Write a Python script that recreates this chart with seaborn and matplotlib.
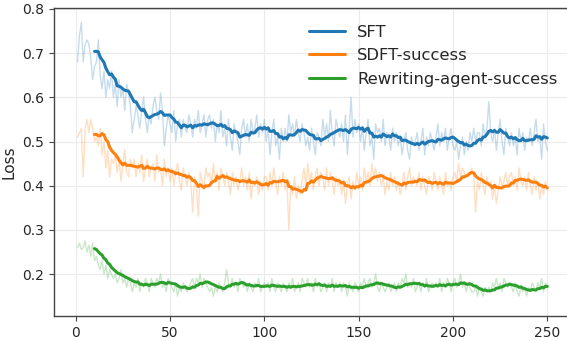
import numpy as np
import pandas as pd
import matplotlib
matplotlib.use("Agg")
import matplotlib.pyplot as plt
import seaborn as sns

steps = list(range(1, 251))

sft = [0.68, 0.74, 0.77, 0.68, 0.72, 0.73, 0.72, 0.69, 0.64, 0.67,
       0.68, 0.73, 0.65, 0.62, 0.66, 0.60, 0.64, 0.62, 0.66, 0.60,
       0.63, 0.58, 0.64, 0.60, 0.62, 0.57, 0.63, 0.61, 0.58, 0.52,
       0.55, 0.58, 0.56, 0.53, 0.57, 0.60, 0.55, 0.52, 0.56, 0.54,
       0.58, 0.60, 0.57, 0.55, 0.61, 0.57, 0.49, 0.53, 0.56, 0.54,
       0.52, 0.57, 0.50, 0.54, 0.55, 0.51, 0.55, 0.53, 0.52, 0.56,
       0.54, 0.51, 0.55, 0.53, 0.57, 0.52, 0.54, 0.56, 0.51, 0.55,
       0.56, 0.53, 0.55, 0.50, 0.54, 0.52, 0.57, 0.51, 0.53, 0.49,
       0.55, 0.51, 0.48, 0.54, 0.52, 0.50, 0.47, 0.53, 0.55, 0.51,
       0.54, 0.50, 0.55, 0.52, 0.53, 0.56, 0.51, 0.54, 0.52, 0.55,
       0.50, 0.53, 0.47, 0.52, 0.55, 0.49, 0.51, 0.46, 0.53, 0.50,
       0.53, 0.50, 0.56, 0.52, 0.54, 0.51, 0.55, 0.52, 0.50, 0.54,
       0.52, 0.49, 0.51, 0.48, 0.53, 0.50, 0.47, 0.52, 0.51, 0.49,
       0.55, 0.51, 0.54, 0.50, 0.57, 0.52, 0.49, 0.55, 0.53, 0.51,
       0.54, 0.50, 0.56, 0.47, 0.53, 0.60, 0.51, 0.55, 0.52, 0.54,
       0.50, 0.53, 0.48, 0.52, 0.55, 0.49, 0.51, 0.46, 0.54, 0.52,
       0.53, 0.50, 0.55, 0.49, 0.52, 0.51, 0.48, 0.53, 0.50, 0.52,
       0.49, 0.51, 0.47, 0.50, 0.52, 0.48, 0.46, 0.51, 0.49, 0.50,
       0.52, 0.48, 0.50, 0.53, 0.47, 0.51, 0.49, 0.52, 0.50, 0.48,
       0.51, 0.54, 0.49, 0.52, 0.50, 0.53, 0.48, 0.51, 0.53, 0.49,
       0.48, 0.50, 0.46, 0.49, 0.51, 0.47, 0.50, 0.48, 0.52, 0.50,
       0.53, 0.50, 0.52, 0.52, 0.49, 0.54, 0.51, 0.53, 0.59, 0.52,
       0.50, 0.53, 0.48, 0.52, 0.55, 0.50, 0.47, 0.53, 0.51, 0.49,
       0.52, 0.49, 0.51, 0.47, 0.53, 0.50, 0.52, 0.48, 0.51, 0.50,
       0.53, 0.49, 0.52, 0.55, 0.50, 0.51, 0.46, 0.54, 0.50, 0.48]

sdft = [0.51, 0.52, 0.53, 0.42, 0.53, 0.55, 0.52, 0.55, 0.53, 0.50,
        0.51, 0.49, 0.53, 0.47, 0.50, 0.44, 0.48, 0.42, 0.46, 0.45,
        0.47, 0.43, 0.46, 0.41, 0.45, 0.48, 0.43, 0.42, 0.46, 0.44,
        0.46, 0.42, 0.45, 0.43, 0.47, 0.41, 0.44, 0.46, 0.42, 0.44,
        0.45, 0.41, 0.47, 0.43, 0.44, 0.40, 0.46, 0.42, 0.44, 0.41,
        0.44, 0.40, 0.43, 0.45, 0.41, 0.39, 0.44, 0.42, 0.40, 0.43,
        0.41, 0.34, 0.42, 0.40, 0.33, 0.43, 0.41, 0.39, 0.44, 0.42,
        0.43, 0.40, 0.45, 0.41, 0.43, 0.39, 0.44, 0.42, 0.40, 0.43,
        0.41, 0.38, 0.43, 0.40, 0.42, 0.39, 0.41, 0.44, 0.40, 0.42,
        0.39, 0.43, 0.37, 0.41, 0.40, 0.42, 0.38, 0.41, 0.39, 0.42,
        0.42, 0.39, 0.43, 0.40, 0.44, 0.41, 0.38, 0.42, 0.40, 0.43,
        0.39, 0.41, 0.30, 0.40, 0.38, 0.42, 0.37, 0.40, 0.38, 0.41,
        0.44, 0.40, 0.45, 0.41, 0.43, 0.39, 0.42, 0.44, 0.40, 0.43,
        0.42, 0.39, 0.44, 0.40, 0.43, 0.41, 0.38, 0.42, 0.40, 0.41,
        0.38, 0.41, 0.36, 0.40, 0.42, 0.37, 0.41, 0.39, 0.43, 0.40,
        0.42, 0.39, 0.44, 0.41, 0.43, 0.40, 0.45, 0.42, 0.44, 0.41,
        0.43, 0.40, 0.42, 0.38, 0.41, 0.39, 0.43, 0.40, 0.42, 0.39,
        0.41, 0.38, 0.40, 0.43, 0.39, 0.42, 0.44, 0.40, 0.42, 0.41,
        0.40, 0.43, 0.39, 0.42, 0.40, 0.38, 0.42, 0.41, 0.39, 0.43,
        0.41, 0.39, 0.42, 0.40, 0.38, 0.43, 0.40, 0.41, 0.39, 0.42,
        0.43, 0.41, 0.45, 0.42, 0.44, 0.43, 0.42, 0.43, 0.43, 0.44,
        0.42, 0.34, 0.41, 0.39, 0.43, 0.40, 0.38, 0.42, 0.40, 0.41,
        0.37, 0.40, 0.36, 0.39, 0.42, 0.40, 0.41, 0.43, 0.40, 0.42,
        0.43, 0.40, 0.42, 0.39, 0.44, 0.41, 0.40, 0.42, 0.39, 0.43,
        0.40, 0.38, 0.42, 0.39, 0.41, 0.37, 0.40, 0.38, 0.41, 0.39]

rewriting = [0.26, 0.27, 0.255, 0.26, 0.275, 0.25, 0.265, 0.24, 0.27, 0.23,
             0.24, 0.22, 0.21, 0.23, 0.20, 0.22, 0.19, 0.21, 0.20, 0.19,
             0.20, 0.18, 0.19, 0.21, 0.18, 0.19, 0.17, 0.19, 0.18, 0.16,
             0.18, 0.17, 0.19, 0.16, 0.18, 0.17, 0.19, 0.18, 0.16, 0.19,
             0.18, 0.17, 0.19, 0.18, 0.20, 0.17, 0.18, 0.16, 0.19, 0.18,
             0.17, 0.16, 0.18, 0.15, 0.17, 0.16, 0.18, 0.17, 0.16, 0.17,
             0.18, 0.19, 0.17, 0.19, 0.18, 0.20, 0.17, 0.19, 0.18, 0.17,
             0.16, 0.17, 0.15, 0.17, 0.16, 0.18, 0.17, 0.16, 0.18, 0.21,
             0.18, 0.17, 0.19, 0.17, 0.18, 0.16, 0.19, 0.18, 0.17, 0.18,
             0.16, 0.18, 0.17, 0.16, 0.18, 0.17, 0.19, 0.16, 0.17, 0.18,
             0.17, 0.18, 0.16, 0.19, 0.17, 0.16, 0.18, 0.17, 0.16, 0.18,
             0.17, 0.16, 0.18, 0.17, 0.19, 0.16, 0.17, 0.18, 0.16, 0.19,
             0.18, 0.17, 0.19, 0.17, 0.18, 0.16, 0.19, 0.17, 0.18, 0.16,
             0.17, 0.18, 0.16, 0.18, 0.17, 0.19, 0.16, 0.18, 0.17, 0.18,
             0.16, 0.18, 0.17, 0.15, 0.18, 0.17, 0.16, 0.18, 0.17, 0.16,
             0.18, 0.17, 0.19, 0.17, 0.18, 0.19, 0.17, 0.18, 0.20, 0.17,
             0.16, 0.18, 0.17, 0.16, 0.17, 0.18, 0.16, 0.17, 0.18, 0.16,
             0.18, 0.17, 0.19, 0.18, 0.20, 0.17, 0.18, 0.17, 0.19, 0.16,
             0.17, 0.18, 0.16, 0.18, 0.17, 0.19, 0.16, 0.17, 0.18, 0.17,
             0.18, 0.17, 0.19, 0.16, 0.18, 0.17, 0.19, 0.18, 0.16, 0.18,
             0.19, 0.17, 0.18, 0.20, 0.17, 0.18, 0.16, 0.18, 0.17, 0.16,
             0.16, 0.17, 0.15, 0.17, 0.16, 0.15, 0.17, 0.16, 0.17, 0.16,
             0.18, 0.17, 0.19, 0.17, 0.18, 0.16, 0.19, 0.18, 0.17, 0.18,
             0.17, 0.16, 0.18, 0.16, 0.15, 0.17, 0.16, 0.17, 0.15, 0.17,
             0.16, 0.18, 0.17, 0.16, 0.18, 0.17, 0.19, 0.16, 0.18, 0.17]

labels = ["SFT", "SDFT-success", "Rewriting-agent-success"]
colors = ["#1f77b4", "#ff7f0e", "#2ca02c"]

sns.set_style("whitegrid", {"grid.color": "#ebebeb", "axes.edgecolor": "#444444"})
plt.rcParams['font.family'] = ['DejaVu Sans']

fig = plt.figure(figsize=(5.67, 3.41), dpi=100)
ax = fig.add_axes([0.0952, 0.0733, 0.905, 0.903])

for name, vals, c in zip(labels, [sft, sdft, rewriting], colors):
    df = pd.DataFrame({"step": steps, "loss": vals})
    df["smooth"] = df["loss"].rolling(10).mean()
    sns.lineplot(data=df, x="step", y="loss", color=c, alpha=0.25, lw=1, ax=ax)
    sns.lineplot(data=df.dropna(), x="step", y="smooth", color=c, lw=2.2, label=name, ax=ax)

ax.set_xlim(-11.5, 260.5)
ax.set_ylim(0.105, 0.802)
ax.set_xticks([0, 50, 100, 150, 200, 250])
ax.set_yticks([0.2, 0.3, 0.4, 0.5, 0.6, 0.7, 0.8])
ax.set_xlabel("")
ax.set_ylabel("Loss", fontsize=11)
ax.tick_params(axis="both", labelsize=10, length=3.5, left=True, bottom=True, color="#444444")
ax.spines["right"].set_visible(False)
for s in ["left", "bottom", "top"]:
    ax.spines[s].set_linewidth(1.0)
ax.legend(loc="upper right", bbox_to_anchor=(1.0, 0.978), frameon=False, fontsize=11.8,
          handlelength=2.2, handletextpad=0.7, labelspacing=0.52, borderaxespad=0.2)

fig.savefig("out.png", dpi=100)
